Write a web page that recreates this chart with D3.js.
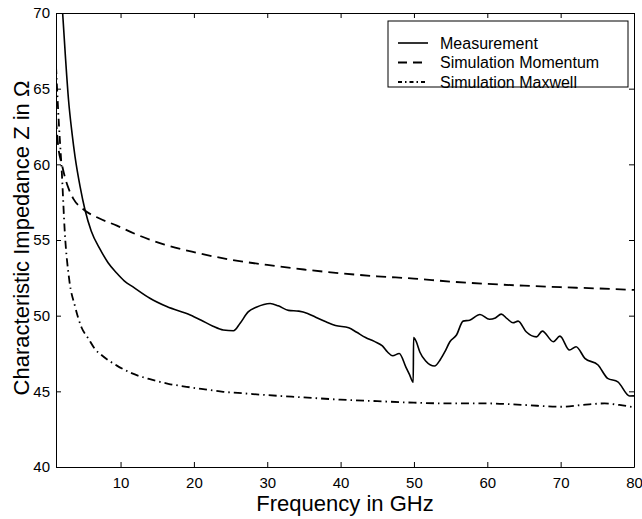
<!DOCTYPE html>
<html>
<head>
<meta charset="utf-8">
<script src="https://cdn.jsdelivr.net/npm/d3@7"></script>
<style>
  body { margin: 0; background: #fff; }
  svg { display: block; font-family: "Liberation Sans", Arial, sans-serif; }
</style>
</head>
<body>
<div id="chart"></div>
<script>
// values (frequency in GHz, impedance in Ohm)
const measFreq = [2.0, 2.5, 2.9, 3.4, 3.8, 4.5, 5.15, 6, 7.2, 8.3, 9.5, 10.5, 11.7, 14, 16.3, 19.5, 21, 22.6, 24, 25.4,
  26.3, 27.4, 28.5, 30.4, 31.5, 32.9, 34.3, 35.5, 36.6, 38, 39.3, 41.1, 42.2, 43.4, 44.6, 45.7, 46.4, 47.1, 48.0, 48.9,
  49.4, 49.9, 49.95, 50.3, 50.8, 51.6, 52.8, 53.6, 54.2, 54.9, 55.8, 56.7, 57.6, 59.0, 60.3, 61.1, 61.9, 62.7, 63.5, 64.2,
  65.3, 66.7, 67.5, 69.0, 69.9, 71.2, 72.1, 73.3, 75.1, 76.4, 77.8, 79.4, 80];
const measZ = [70.8, 67, 64.3, 62, 60.5, 58.5, 57.0, 55.6, 54.4, 53.5, 52.8, 52.3, 51.9, 51.15, 50.6, 50.05, 49.7, 49.3, 49.05, 49.0,
  49.5, 50.25, 50.55, 50.8, 50.65, 50.35, 50.3, 50.15, 49.9, 49.6, 49.35, 49.2, 48.9, 48.56, 48.3, 48.0, 47.6, 47.35, 47.5, 46.6,
  46.1, 45.6, 48.55, 48.3, 47.6, 47.0, 46.67, 47.1, 47.6, 48.28, 48.72, 49.64, 49.7, 50.08, 49.76, 49.85, 50.1, 49.8, 49.53, 49.64,
  48.94, 48.6, 48.98, 48.28, 48.65, 47.73, 47.95, 47.18, 46.74, 45.86, 45.63, 44.69, 44.7];

const momFreq = [1.2, 1.5, 2.0, 2.5, 3.0, 3.6, 5, 7, 9.5, 12, 16, 20, 25, 30, 35, 40, 45, 50, 55, 60, 65, 70, 75, 80];
const momZ = [63.0, 61.2, 60.0, 59.0, 58.3, 57.7, 57.0, 56.45, 55.95, 55.4, 54.7, 54.2, 53.7, 53.35, 53.05, 52.8, 52.6, 52.45, 52.25, 52.1, 51.98, 51.88, 51.8, 51.7];

const maxFreq = [1.2, 1.5, 2.0, 2.4, 3.0, 3.8, 4.7, 5.6, 6.5, 7.4, 9.5, 11.5, 14, 16.5, 19, 21.5, 24, 27, 30, 35, 40, 45, 50, 55, 60, 65, 70, 73, 76, 78, 80];
const maxZ = [66.5, 63.5, 59.4, 55.5, 52.4, 50.6, 49.2, 48.5, 47.8, 47.4, 46.7, 46.2, 45.8, 45.5, 45.3, 45.13, 44.97, 44.86, 44.75, 44.6, 44.45, 44.35, 44.25, 44.2, 44.2, 44.1, 43.98, 44.1, 44.2, 44.1, 43.95];

const xTicks = [10, 20, 30, 40, 50, 60, 70, 80];
const yTicks = [40, 45, 50, 55, 60, 65, 70];

const seriesNames = ["Measurement", "Simulation Momentum", "Simulation Maxwell"];
const seriesDash = [null, "10,6", "8,4,1.5,4"];

const width = 642, height = 519;
const margin = { top: 13, right: 8, bottom: 52, left: 56 };

const svg = d3.select("#chart").append("svg")
  .attr("width", width)
  .attr("height", height);

svg.append("rect").attr("width", width).attr("height", height).attr("fill", "#fff");

const x = d3.scaleLinear().domain([1.2, 80]).range([margin.left, width - margin.right]);
const y = d3.scaleLinear().domain([40, 70]).range([height - margin.bottom, margin.top]);

svg.append("clipPath").attr("id", "clip")
  .append("rect")
  .attr("x", x(1.2)).attr("y", y(70))
  .attr("width", x(80) - x(1.2)).attr("height", y(40) - y(70));

// axes, MATLAB style box with inward ticks
const tickLen = 5;
svg.append("g")
  .attr("transform", `translate(0,${y(40)})`)
  .call(d3.axisBottom(x).tickValues(xTicks).tickSize(-tickLen).tickPadding(10).tickSizeOuter(0))
  .call(g => g.selectAll("text").attr("font-size", 15).attr("fill", "#000"));

svg.append("g")
  .attr("transform", `translate(0,${y(70)})`)
  .call(d3.axisTop(x).tickValues(xTicks).tickSize(-tickLen).tickFormat("").tickSizeOuter(0));

svg.append("g")
  .attr("transform", `translate(${x(1.2)},0)`)
  .call(d3.axisLeft(y).tickValues(yTicks).tickSize(-tickLen).tickPadding(6).tickSizeOuter(0))
  .call(g => g.selectAll("text").attr("font-size", 15).attr("fill", "#000"));

svg.append("g")
  .attr("transform", `translate(${x(80)},0)`)
  .call(d3.axisRight(y).tickValues(yTicks).tickSize(-tickLen).tickFormat("").tickSizeOuter(0));

svg.selectAll(".domain").attr("stroke", "#000");
svg.selectAll(".tick line").attr("stroke", "#000");

// curves
const line = d3.line().x(d => x(d[0])).y(d => y(d[1])).curve(d3.curveMonotoneX);
const series = [
  d3.zip(measFreq, measZ),
  d3.zip(momFreq, momZ),
  d3.zip(maxFreq, maxZ)
];

const plot = svg.append("g").attr("clip-path", "url(#clip)");
plot.selectAll("path")
  .data(series)
  .join("path")
  .attr("fill", "none")
  .attr("stroke", "#000")
  .attr("stroke-width", (d, i) => i === 0 ? 1.6 : 1.8)
  .attr("stroke-dasharray", (d, i) => seriesDash[i])
  .attr("stroke-linejoin", "round")
  .attr("d", line);

// axis labels
svg.append("text")
  .attr("x", (x(1.2) + x(80)) / 2)
  .attr("y", 511)
  .attr("text-anchor", "middle")
  .attr("font-size", 22)
  .text("Frequency in GHz");

svg.append("text")
  .attr("transform", `translate(29,${(y(40) + y(70)) / 2 - 2}) rotate(-90)`)
  .attr("text-anchor", "middle")
  .attr("font-size", 22)
  .text("Characteristic Impedance Z in Ω");

// legend
const legend = svg.append("g");
legend.append("rect")
  .attr("x", 388).attr("y", 21)
  .attr("width", 240).attr("height", 66)
  .attr("fill", "#fff")
  .attr("stroke", "#000");

const rows = legend.selectAll("g")
  .data(seriesNames)
  .join("g")
  .attr("transform", (d, i) => `translate(0,${43 + i * 19.5})`);

rows.append("line")
  .attr("x1", 398).attr("x2", 428)
  .attr("stroke", "#000")
  .attr("stroke-width", (d, i) => i === 0 ? 1.6 : 1.8)
  .attr("stroke-dasharray", (d, i) => i === 1 ? "9,6" : i === 2 ? "4,3,1.5,3" : null);

rows.append("text")
  .attr("x", 440)
  .attr("dy", "0.35em")
  .attr("font-size", 16)
  .text(d => d);
</script>
</body>
</html>
